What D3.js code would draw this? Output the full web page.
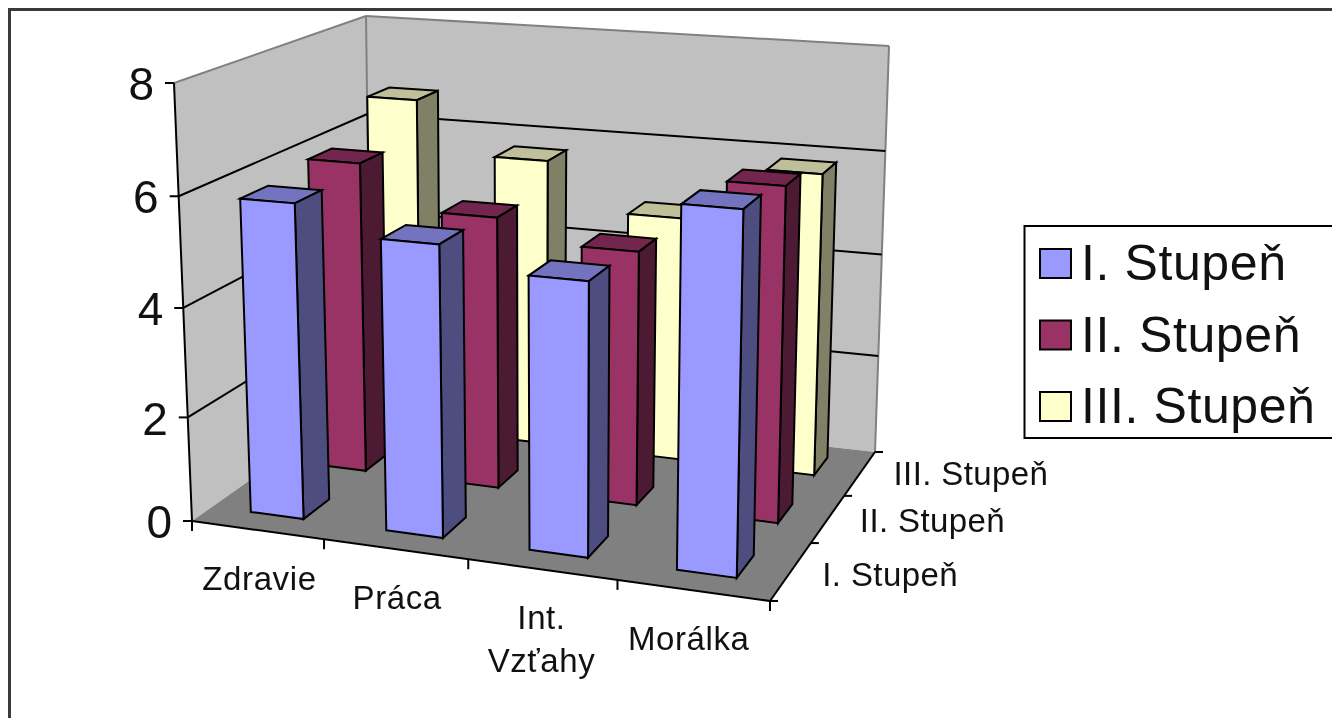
<!DOCTYPE html>
<html>
<head>
<meta charset="utf-8">
<script src="https://cdn.jsdelivr.net/npm/d3@7"></script>
<style>html,body{margin:0;padding:0;background:#fff;overflow:hidden}svg{display:block;filter:blur(0.55px)}text{font-family:"Liberation Sans",Arial,sans-serif;fill:#111}</style>
</head>
<body>
<svg id="c" width="1332" height="718"></svg>
<script>
const categories = ["Zdravie", "Práca", "Int. Vzťahy", "Morálka"];
const seriesNames = ["I. Stupeň", "II. Stupeň", "III. Stupeň"];
const seriesI = [5.85, 5.35, 4.95, 6.4];
const seriesII = [6.0, 5.2, 4.8, 6.2];
const seriesIII = [6.7, 5.7, 4.8, 5.85];
const valueTicks = [0, 2, 4, 6, 8];
const frontColors = ["#9999ff", "#993366", "#ffffcc"];
const sideColors = ["#4d4d80", "#4d1a33", "#808066"];
const topColors = ["#7373bf", "#73264d", "#bfbf99"];

const svg = d3.select("#c");
// projection frame: corners of the plot box on screen
const FL0=[192,521],FL8=[174,83],FR0=[770,601],FR8=[780,125],BL0=[371,395],BL8=[366,16],BR0=[875,452],BR8=[889,46];
const lerp=(a,b,t)=>[a[0]+(b[0]-a[0])*t,a[1]+(b[1]-a[1])*t];
const xWarp=d3.scalePow().exponent(1.065).domain([0,1]).range([0,1]);
const zWarp=d3.scalePow().exponent(0.86).domain([0,1]).range([0,1]);
const yScale=d3.scalePow().exponent(1.04).domain([0,8]).range([0,1]);
const xBand=d3.scaleBand().domain(categories).range([0.005,1]).paddingInner(0.6).paddingOuter(0.3);
const zBand=d3.scaleBand().domain(seriesNames).range([0,1]).paddingInner(0.615).paddingOuter(0.226);
function P(u,z,v){
  const a=xWarp(u),d=zWarp(z),t=yScale(v);
  const f=lerp(lerp(FL0,FR0,a),lerp(FL8,FR8,a),t);
  const b=lerp(lerp(BL0,BR0,a),lerp(BL8,BR8,a),t);
  return lerp(f,b,d);
}
const path=pts=>d3.line()(pts)+"Z";
const seg=(g,a,b,c,w)=>g.append("line").attr("x1",a[0]).attr("y1",a[1]).attr("x2",b[0]).attr("y2",b[1]).attr("stroke",c).attr("stroke-width",w);

// frame (open at the bottom and right, cropped by the picture edge)
svg.append("rect").attr("x",9.5).attr("y",9.5).attr("width",1340).attr("height",730).attr("fill","#fff").attr("stroke","#3a3a3a").attr("stroke-width",3);

const g=svg.append("g").attr("stroke-linejoin","miter");
// walls and floor
g.append("path").attr("d",path([P(0,0,0),P(0,0,8),P(0,1,8),P(0,1,0)])).attr("fill","#c0c0c0");
g.append("path").attr("d",path([P(0,1,0),P(0,1,8),P(1,1,8),P(1,1,0)])).attr("fill","#c0c0c0");
g.append("path").attr("d",path([P(0,0,0),P(1,0,0),P(1,1,0),P(0,1,0)])).attr("fill","#808080");
// wall outlines
seg(g,P(0,0,8),P(0,1,8),"#808080",2);seg(g,P(0,1,8),P(1,1,8),"#808080",2);
seg(g,P(1,1,8),P(1,1,0),"#808080",2);seg(g,P(0,1,8),P(0,1,0),"#808080",2);
// gridlines
valueTicks.filter(v=>v>0&&v<8).forEach(v=>{
  seg(g,P(0,0,v),P(0,1,v),"#000",2);seg(g,P(0,1,v),P(1,1,v),"#000",2);
});
// bars
const allSeries=[seriesI,seriesII,seriesIII];
[2,1,0].forEach(s=>{
  categories.forEach((c,i)=>{
    const v=allSeries[s][i],x0=xBand(c),x1=x0+xBand.bandwidth(),z0=zBand(seriesNames[s]),z1=z0+zBand.bandwidth();
    const bar=g.append("g").attr("stroke","#000").attr("stroke-width",2);
    bar.append("path").attr("d",path([P(x0,z0,v),P(x1,z0,v),P(x1,z1,v),P(x0,z1,v)])).attr("fill",topColors[s]);
    bar.append("path").attr("d",path([P(x1,z0,0),P(x1,z1,0),P(x1,z1,v),P(x1,z0,v)])).attr("fill",sideColors[s]);
    bar.append("path").attr("d",path([P(x0,z0,0),P(x1,z0,0),P(x1,z0,v),P(x0,z0,v)])).attr("fill",frontColors[s]);
  });
});
// axes
seg(g,P(0,0,0),P(0,0,8),"#000",2);seg(g,P(0,0,0),P(1,0,0),"#000",2);seg(g,P(1,0,0),P(1,1,0),"#000",2);
valueTicks.forEach(v=>{
  const p=P(0,0,v);seg(g,[p[0]-9,p[1]],p,"#000",2);
  g.append("text").attr("x",p[0]-20).attr("y",p[1]+1).attr("dy","0.35em").attr("text-anchor","end").attr("font-size",46).text(v);
});
d3.range(0,5).forEach(i=>{const p=P(i/4,0,0);seg(g,p,[p[0],p[1]+10],"#000",2);});
d3.range(0,4).forEach(i=>{const p=P(1,i/3,0);seg(g,p,[p[0]+8,p[1]],"#000",2);});
// category labels
const labelNudge=[2,0,-2,-5];
categories.forEach((c,i)=>{
  const p=P(xWarp.invert(xWarp(xBand(c)+xBand.bandwidth()/2)),0,0);
  const parts=c==="Int. Vzťahy"?["Int.","Vzťahy"]:[c];
  parts.forEach((t,k)=>g.append("text").attr("x",p[0]+labelNudge[i]).attr("y",p[1]+48+k*43).attr("dy","0.35em").attr("text-anchor","middle").attr("font-size",33).attr("letter-spacing",0.6).text(t));
});
// depth labels
seriesNames.forEach(s=>{
  const p=P(1,zBand(s)+zBand.bandwidth()/2,0);
  g.append("text").attr("x",p[0]+32).attr("y",p[1]+2).attr("dy","0.35em").attr("font-size",33).attr("letter-spacing",0.4).text(s);
});
// legend
const lg=svg.append("g");
lg.append("rect").attr("x",1024.5).attr("y",226).attr("width",330).attr("height",212).attr("fill","#fff").attr("stroke","#000").attr("stroke-width",2);
const ly=d3.scalePoint().domain(seriesNames).range([264,407]);
seriesNames.forEach((s,i)=>{
  lg.append("rect").attr("x",1040).attr("y",ly(s)-15).attr("width",31).attr("height",29).attr("fill",frontColors[i]).attr("stroke","#000").attr("stroke-width",2);
  lg.append("text").attr("x",1081).attr("y",ly(s)+16).attr("font-size",50).attr("letter-spacing",0.6).attr("fill","#000").text(s);
});
</script>
</body>
</html>
